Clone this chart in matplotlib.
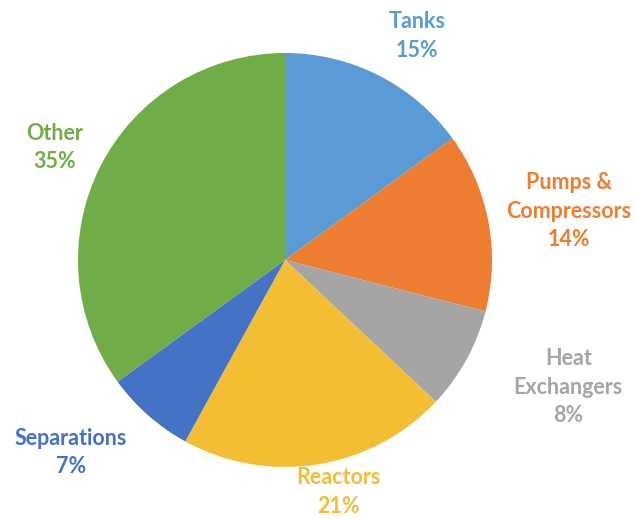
import matplotlib
matplotlib.use("Agg")
import matplotlib.pyplot as plt
import numpy as np

categories = ["Tanks", "Pumps &\nCompressors", "Heat\nExchangers", "Reactors", "Separations", "Other"]
shares = [15, 14, 8, 21, 7, 35]
colors = ["#5B9BD5", "#ED7D31", "#A5A5A5", "#F4BE34", "#4472C4", "#70AD47"]
label_colors = ["#5B9BD5", "#ED7D31", "#A5A5A5", "#F4BE34", "#4472C4", "#70AD47"]
# radial distance of each label (in pie radii) and small angular nudges
label_dist = [1.256, 1.39, 1.50, 1.15, 1.39, 1.24]
label_nudge = [-3.5, -1.0, 4.6, 4.0, -6.6, 1.0]

W, H = 638, 519
fig = plt.figure(figsize=(W / 100, H / 100), dpi=100)
ax = fig.add_axes([0, 0, 1, 1])

wedges, _ = ax.pie(shares, colors=colors, startangle=90, counterclock=False,
                   radius=1.0, wedgeprops=dict(linewidth=0))

cx, cy, r = 285, 259, 207
ax.set_aspect("auto")
ax.set_xlim(-cx / r, (W - cx) / r)
ax.set_ylim(-cy / r, (H - cy) / r)
ax.axis("off")

for w, name, val, col, d, nd in zip(wedges, categories, shares, label_colors, label_dist, label_nudge):
    ang = np.deg2rad((w.theta1 + w.theta2) / 2 + nd)
    ax.text(d * np.cos(ang), d * np.sin(ang), f"{name}\n{val}%",
            ha="center", va="center", color=col, fontsize=15.5,
            fontweight="bold", family="Lato", linespacing=1.45)

fig.savefig("out.png", dpi=100)
